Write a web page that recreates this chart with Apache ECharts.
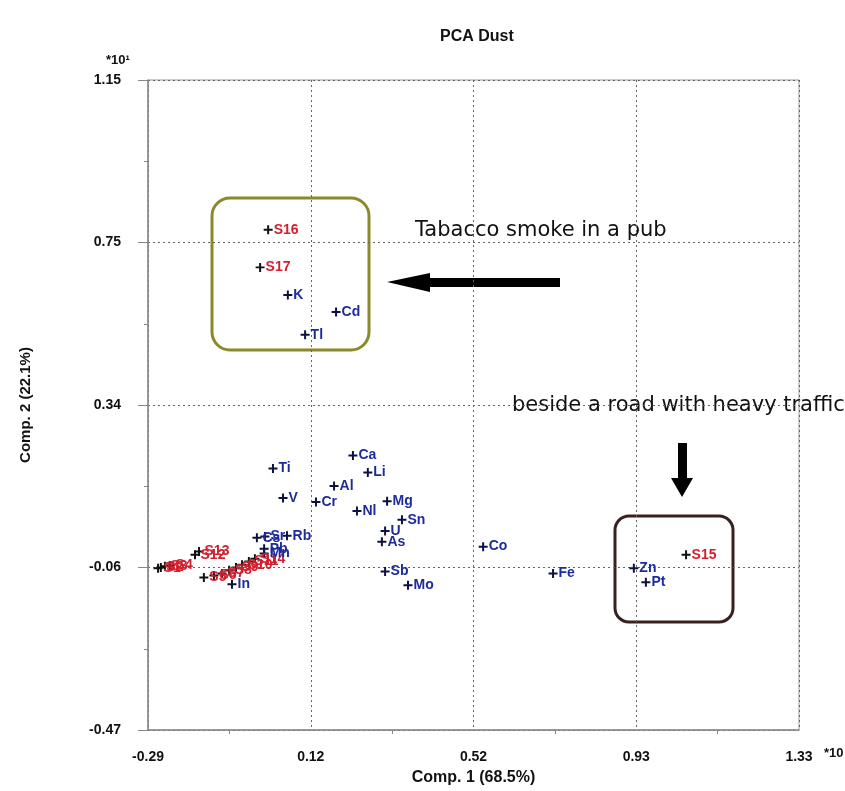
<!DOCTYPE html>
<html>
<head>
<meta charset="utf-8">
<script src="https://cdn.jsdelivr.net/npm/echarts@6/dist/echarts.min.js"></script>
<style>
html,body{margin:0;padding:0;background:#fff;}
#chart{width:845px;height:791px;}
</style>
</head>
<body>
<div id="chart"></div>
<script>
// Tick labels
var xTickLabels = ['-0.29', '0.12', '0.52', '0.93', '1.33'];
var yTickLabels = ['-0.47', '-0.06', '0.34', '0.75', '1.15'];

// Samples (red)
var sampleNames = ['S1','S2','S3','S4','S12','S13','S5','S6','S7','S8','S9','S10','S11','S14','S15','S16','S17'];
var sampleX = [-0.265,-0.258,-0.248,-0.235,-0.173,-0.163,-0.151,-0.126,-0.106,-0.088,-0.071,-0.056,-0.039,-0.024,1.049,0.009,-0.011];
var sampleY = [-0.067,-0.065,-0.062,-0.060,-0.033,-0.025,-0.090,-0.085,-0.080,-0.072,-0.065,-0.058,-0.050,-0.043,-0.033,0.777,0.683];

// Elements (blue)
var elemNames = ['K','Cd','Tl','Ca','Li','Ti','Al','V','Cr','Mg','Nl','Sn','U','As','Co','Fe','Zn','Pt','Sb','Mo','Rb','Cs','Sr','Pb','Mn','In'];
var elemX = [0.058,0.178,0.101,0.220,0.257,0.021,0.173,0.046,0.128,0.305,0.230,0.342,0.300,0.292,0.544,0.718,0.919,0.949,0.300,0.357,0.056,-0.019,0.001,-0.001,-0.001,-0.081];
var elemY = [0.614,0.572,0.515,0.214,0.172,0.182,0.138,0.108,0.098,0.100,0.076,0.054,0.026,-0.001,-0.013,-0.080,-0.067,-0.102,-0.075,-0.109,0.014,0.009,0.012,-0.018,-0.030,-0.107];

function build(xs, ys, ns){
  return xs.map(function(v,i){ return [v, ys[i], ns[i]]; });
}

var X_MIN = -0.29, X_MAX = 1.33, Y_MIN = -0.47, Y_MAX = 1.15, STEP = 0.405;
function tickFmt(labels, min){
  return function(v){
    var i = Math.round((v - min) / STEP);
    return labels[i] !== undefined ? labels[i] : '';
  };
}

var plus = 'path://M3.9,0H6.1V3.9H10V6.1H6.1V10H3.9V6.1H0V3.9H3.9Z';
var fontFam = '"Liberation Sans", Arial, sans-serif';

function labelStyle(color){
  return {
    show: true, position: 'right', distance: 1, offset: [0, -2],
    formatter: function(p){ return p.data[2]; },
    color: color, fontFamily: fontFam, fontWeight: 'bold', fontSize: 14
  };
}

var chart = echarts.init(document.getElementById('chart'), null, {renderer: 'canvas'});
chart.setOption({
  animation: false,
  backgroundColor: '#ffffff',
  title: {
    text: 'PCA Dust', left: 435, top: 24,
    textStyle: {fontFamily: fontFam, fontWeight: 'bold', fontSize: 16, color: '#111'}
  },
  grid: {left: 148, top: 80, right: 46, bottom: 55, show: true, borderColor: '#999', borderWidth: 1, backgroundColor: 'transparent'},
  xAxis: {
    type: 'value', min: X_MIN, max: X_MAX, interval: STEP,
    name: 'Comp. 1 (68.5%)', nameLocation: 'middle', nameGap: 40,
    nameTextStyle: {fontFamily: fontFam, fontWeight: 'bold', fontSize: 16, color: '#111'},
    axisLine: {show: true, onZero: false, lineStyle: {color: '#888', width: 1.5}},
    axisTick: {show: false},
    minorTick: {show: true, splitNumber: 2, length: 4, lineStyle: {color: '#888'}},
    axisLabel: {formatter: tickFmt(xTickLabels, X_MIN), margin: 20, fontFamily: fontFam, fontWeight: 'bold', fontSize: 14, color: '#111'},
    splitLine: {show: true, lineStyle: {type: [2, 3], color: '#666', width: 1}}
  },
  yAxis: {
    type: 'value', min: Y_MIN, max: Y_MAX, interval: STEP,
    name: 'Comp. 2 (22.1%)', nameLocation: 'middle', nameGap: 115,
    nameTextStyle: {fontFamily: fontFam, fontWeight: 'bold', fontSize: 15, color: '#111'},
    axisLine: {show: true, onZero: false, lineStyle: {color: '#888', width: 1.5}},
    axisTick: {show: true, inside: false, length: 10, lineStyle: {color: '#888'}},
    minorTick: {show: true, splitNumber: 2, length: 4, lineStyle: {color: '#888'}},
    axisLabel: {formatter: tickFmt(yTickLabels, Y_MIN), margin: 27, fontFamily: fontFam, fontWeight: 'bold', fontSize: 14, color: '#111'},
    splitLine: {show: true, lineStyle: {type: [2, 3], color: '#666', width: 1}}
  },
  series: [
    {
      name: 'Samples', type: 'scatter', symbol: plus, symbolSize: 9,
      itemStyle: {color: '#111', opacity: 1},
      label: labelStyle('#d21f2f'),
      labelLayout: {hideOverlap: false},
      data: build(sampleX, sampleY, sampleNames)
    },
    {
      name: 'Elements', type: 'scatter', symbol: plus, symbolSize: 9,
      itemStyle: {color: '#0c1240', opacity: 1},
      label: labelStyle('#1c2c9c'),
      labelLayout: {hideOverlap: false},
      data: build(elemX, elemY, elemNames)
    }
  ],
  graphic: [
    {type: 'text', left: 106, top: 54, style: {text: '*10¹', fontFamily: fontFam, fontWeight: 'bold', fontSize: 13, fill: '#111'}},
    {type: 'text', left: 824, top: 747, style: {text: '*10', fontFamily: fontFam, fontWeight: 'bold', fontSize: 13, fill: '#111'}},
    {type: 'rect', shape: {x: 212, y: 198, width: 157, height: 152, r: 18}, style: {fill: 'none', stroke: '#8a8a2a', lineWidth: 3}},
    {type: 'rect', shape: {x: 615, y: 516, width: 118, height: 106, r: 14}, style: {fill: 'none', stroke: '#3a2020', lineWidth: 3}},
    {type: 'polygon', shape: {points: [[387,282],[430,273],[430,278],[560,278],[560,287],[430,287],[430,292]]}, style: {fill: '#000'}},
    {type: 'polygon', shape: {points: [[678,443],[687,443],[687,478],[693,478],[682,497],[671,478],[678,478]]}, style: {fill: '#000'}},
    {type: 'text', left: 415, top: 220, style: {text: 'Tabacco smoke in a pub', fontFamily: '"DejaVu Sans", sans-serif', fontSize: 21, fill: '#111'}},
    {type: 'text', left: 512, top: 395, style: {text: 'beside a road with heavy traffic', fontFamily: '"DejaVu Sans", sans-serif', fontSize: 21, fill: '#111'}}
  ]
});
</script>
</body>
</html>
